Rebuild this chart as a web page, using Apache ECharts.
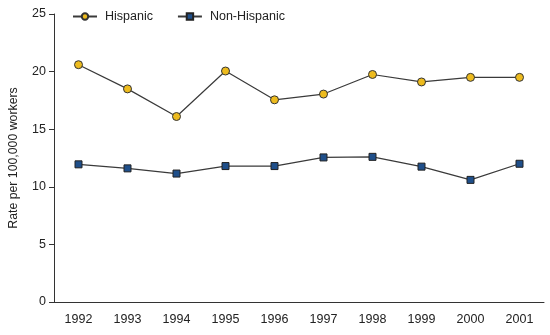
<!DOCTYPE html>
<html><head><meta charset="utf-8">
<script src="https://cdn.jsdelivr.net/npm/echarts@6/dist/echarts.min.js"></script>
<style>html,body{margin:0;padding:0;background:#fff}#c{width:550px;height:335px}</style>
</head><body><div id="c"></div>
<script>
var years = ['1992','1993','1994','1995','1996','1997','1998','1999','2000','2001'];
var hispanic = [20.6, 18.5, 16.1, 20.05, 17.55, 18.05, 19.75, 19.1, 19.5, 19.5];
var nonHispanic = [11.95, 11.6, 11.15, 11.8, 11.8, 12.55, 12.6, 11.75, 10.6, 12.0];
var yTicks = [0, 5, 10, 15, 20, 25];

var chart = echarts.init(document.getElementById('c'));
chart.setOption({
  animation: false,
  textStyle: {fontFamily: 'Liberation Sans, Arial, sans-serif'},
  legend: {
    top: 5, left: 67, itemGap: 24, itemWidth: 24, itemHeight: 8,
    textStyle: {fontSize: 12.5, color: '#222', padding: [0, 0, 0, 3]},
    data: ['Hispanic', 'Non-Hispanic']
  },
  grid: {left: 53, right: 6, top: 14, bottom: 33},
  xAxis: {
    type: 'category', data: years, boundaryGap: true,
    axisLine: {lineStyle: {color: '#333'}},
    axisTick: {alignWithLabel: true, length: 5, lineStyle: {color: '#333'}},
    axisLabel: {fontSize: 12.5, color: '#222', margin: 11}
  },
  yAxis: {
    type: 'value', min: yTicks[0], max: yTicks[yTicks.length - 1], interval: 5,
    name: 'Rate per 100,000 workers', nameLocation: 'middle', nameGap: 34,
    nameTextStyle: {fontSize: 12.3, color: '#222'},
    axisLine: {show: true, lineStyle: {color: '#333'}},
    axisTick: {show: true, length: 5, lineStyle: {color: '#333'}},
    splitLine: {show: false},
    axisLabel: {fontSize: 12.5, color: '#222', margin: 8}
  },
  series: [
    {
      name: 'Hispanic', type: 'line', data: hispanic,
      symbol: 'circle', symbolSize: 8,
      lineStyle: {color: '#3a3a3a', width: 1.2},
      itemStyle: {color: '#EDBB1E', borderColor: '#333', borderWidth: 1}
    },
    {
      name: 'Non-Hispanic', type: 'line', data: nonHispanic,
      symbol: 'rect', symbolSize: 7,
      lineStyle: {color: '#3a3a3a', width: 1.2},
      itemStyle: {color: '#1F4F8A', borderColor: '#222', borderWidth: 1}
    }
  ]
});
</script></body></html>
